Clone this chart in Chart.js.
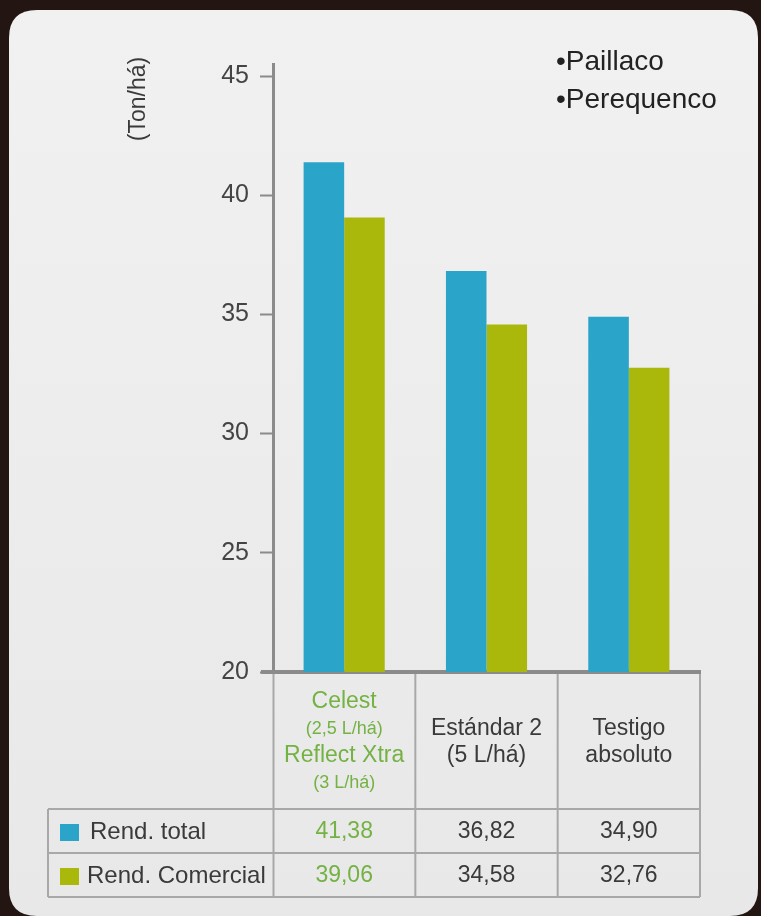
<!DOCTYPE html>
<html>
<head>
<meta charset="utf-8">
<script src="https://cdn.jsdelivr.net/npm/chart.js@4"></script>
<style>
html,body{margin:0;padding:0;background:#231512;}
canvas{display:block;}
</style>
</head>
<body>
<canvas id="c" width="761" height="916"></canvas>
<script>
// ---- data ----
const categories = [
  ["Celest", "(2,5 L/há)", "Reflect Xtra", "(3 L/há)"],
  ["Estándar 2", "(5 L/há)"],
  ["Testigo", "absoluto"]
];
const seriesNames = ["Rend. total", "Rend. Comercial"];
const rendTotal = [41.38, 36.82, 34.90];
const rendComercial = [39.06, 34.58, 32.76];
const yMin = 20, yMax = 45, yStep = 5;
const unitLabel = "(Ton/há)";
const locations = ["•Paillaco", "•Perequenco"];

// ---- styles ----
const BLUE = "#2aa4c9";
const GREEN = "#aab80c";
const TEXT_GREEN = "#74b244";
const TEXT_DARK = "#3a3a3a";
const AXIS = "#8b8b8b";
const GRID = "#a8a8a8";
const FONT = "'Liberation Sans', Arial, Helvetica, sans-serif";
const highlightCategory = 0;
const seriesColors = [BLUE, GREEN];

function fmt(v){ return v.toFixed(2).replace('.', ','); }

const decor = {
  id: 'decor',
  beforeDraw(chart){
    const ctx = chart.ctx;
    ctx.save();
    ctx.fillStyle = "#231512";
    ctx.fillRect(0,0,chart.width,chart.height);
    // panel
    const x0=9,y0=10,x1=758,y1=916,r=28;
    const g = ctx.createLinearGradient(0,y0,0,y1);
    g.addColorStop(0,"#f1f1f1");
    g.addColorStop(1,"#e8e8e8");
    ctx.fillStyle = g;
    ctx.beginPath();
    ctx.moveTo(x0+r,y0);
    ctx.lineTo(x1-r,y0);
    ctx.quadraticCurveTo(x1,y0,x1,y0+r);
    ctx.lineTo(x1,y1-r);
    ctx.quadraticCurveTo(x1,y1,x1-r,y1);
    ctx.lineTo(x0+r,y1);
    ctx.quadraticCurveTo(x0,y1,x0,y1-r);
    ctx.lineTo(x0,y0+r);
    ctx.quadraticCurveTo(x0,y0,x0+r,y0);
    ctx.closePath();
    ctx.fill();
    ctx.restore();
  },
  afterDraw(chart){
    const ctx = chart.ctx;
    const ca = chart.chartArea;
    const xs = chart.scales.x;
    ctx.save();
    // y axis extension above top
    ctx.strokeStyle = AXIS;
    ctx.lineWidth = 3;
    ctx.beginPath();
    ctx.moveTo(ca.left+0.5, ca.top-13);
    ctx.lineTo(ca.left+0.5, ca.top);
    ctx.stroke();
    // x axis extension left
    ctx.lineWidth = 4;
    ctx.beginPath();
    ctx.moveTo(ca.left-12, ca.bottom);
    ctx.lineTo(ca.left, ca.bottom);
    ctx.stroke();

    // unit label
    ctx.fillStyle = TEXT_DARK;
    ctx.font = "23px " + FONT;
    ctx.textAlign = "center";
    ctx.textBaseline = "middle";
    ctx.save();
    ctx.translate(139, 99);
    ctx.rotate(-Math.PI/2);
    ctx.fillText(unitLabel, 0, 0);
    ctx.restore();

    // locations
    ctx.fillStyle = "#222";
    ctx.font = "28px " + FONT;
    ctx.textAlign = "left";
    locations.forEach((t,i)=>{ ctx.fillText(t, 556, 62 + i*38); });

    // table geometry
    const n = categories.length;
    const bounds = [ca.left];
    for (let i=0;i<n-1;i++) bounds.push((xs.getPixelForValue(i)+xs.getPixelForValue(i+1))/2);
    bounds.push(ca.right);
    const rowTop = ca.bottom + 137;
    const rowH = 44;
    const tableBottom = rowTop + rowH*2;
    const tableLeft = 48;

    ctx.strokeStyle = GRID;
    ctx.lineWidth = 2;
    // vertical lines
    bounds.forEach((bx,i)=>{
      ctx.beginPath();
      ctx.moveTo(bx + (i===0?0.5:0), ca.bottom+2);
      ctx.lineTo(bx + (i===0?0.5:0), tableBottom);
      ctx.stroke();
    });
    ctx.beginPath();
    ctx.moveTo(tableLeft, rowTop); ctx.lineTo(tableLeft, tableBottom);
    ctx.stroke();
    // horizontal lines
    [rowTop, rowTop+rowH, tableBottom].forEach(y=>{
      ctx.beginPath();
      ctx.moveTo(tableLeft, y); ctx.lineTo(ca.right, y);
      ctx.stroke();
    });

    // category labels
    ctx.textAlign = "center";
    ctx.textBaseline = "middle";
    categories.forEach((lines,i)=>{
      const cx = (bounds[i]+bounds[i+1])/2;
      const lh = 27;
      const y0 = ca.bottom + (rowTop-ca.bottom)/2 - (lines.length-1)*lh/2 + 2;
      lines.forEach((t,j)=>{
        const small = (i===highlightCategory && j%2===1);
        ctx.font = (small ? "18px " : "23px ") + FONT;
        ctx.fillStyle = i===highlightCategory ? TEXT_GREEN : TEXT_DARK;
        ctx.fillText(t, cx, y0 + j*lh);
      });
    });

    // data rows
    const rows = [rendTotal, rendComercial];
    rows.forEach((vals,r)=>{
      const cy = rowTop + rowH*r + rowH/2 + 1;
      ctx.fillStyle = seriesColors[r];
      ctx.fillRect(60, cy-8, 19, 17);
      ctx.fillStyle = TEXT_DARK;
      ctx.font = "24px " + FONT;
      ctx.textAlign = "left";
      ctx.fillText(seriesNames[r], r===0 ? 90 : 87, cy);
      ctx.textAlign = "center";
      ctx.font = "23px " + FONT;
      vals.forEach((v,i)=>{
        const cx = (bounds[i]+bounds[i+1])/2;
        ctx.fillStyle = i===highlightCategory ? TEXT_GREEN : TEXT_DARK;
        ctx.fillText(fmt(v), cx, cy);
      });
    });
    ctx.restore();
  }
};

new Chart(document.getElementById('c'), {
  type: 'bar',
  data: {
    labels: categories.map(c=>c.join(' ')),
    datasets: [
      { label: seriesNames[0], data: rendTotal, backgroundColor: BLUE, borderWidth: 0 },
      { label: seriesNames[1], data: rendComercial, backgroundColor: GREEN, borderWidth: 0 }
    ]
  },
  options: {
    responsive: false,
    devicePixelRatio: 1,
    animation: false,
    events: [],
    layout: { padding: { left: 0, right: 61, top: 76, bottom: 916-672 } },
    plugins: { legend: { display: false }, tooltip: { enabled: false } },
    datasets: { bar: { categoryPercentage: 0.57, barPercentage: 1.0 } },
    scales: {
      x: {
        z: 1,
        ticks: { display: false },
        grid: { display: false },
        border: { display: true, color: AXIS, width: 4 },
        afterFit(s){ s.height = 0; }
      },
      y: {
        min: yMin, max: yMax,
        ticks: { stepSize: yStep, font: { family: FONT, size: 25 }, color: "#444", padding: 11 },
        grid: { drawOnChartArea: false, drawTicks: true, tickLength: 13, tickWidth: 2, tickColor: AXIS },
        border: { display: true, color: AXIS, width: 3 },
        afterFit(s){ s.width = 273; }
      }
    }
  },
  plugins: [decor]
});
</script>
</body>
</html>
